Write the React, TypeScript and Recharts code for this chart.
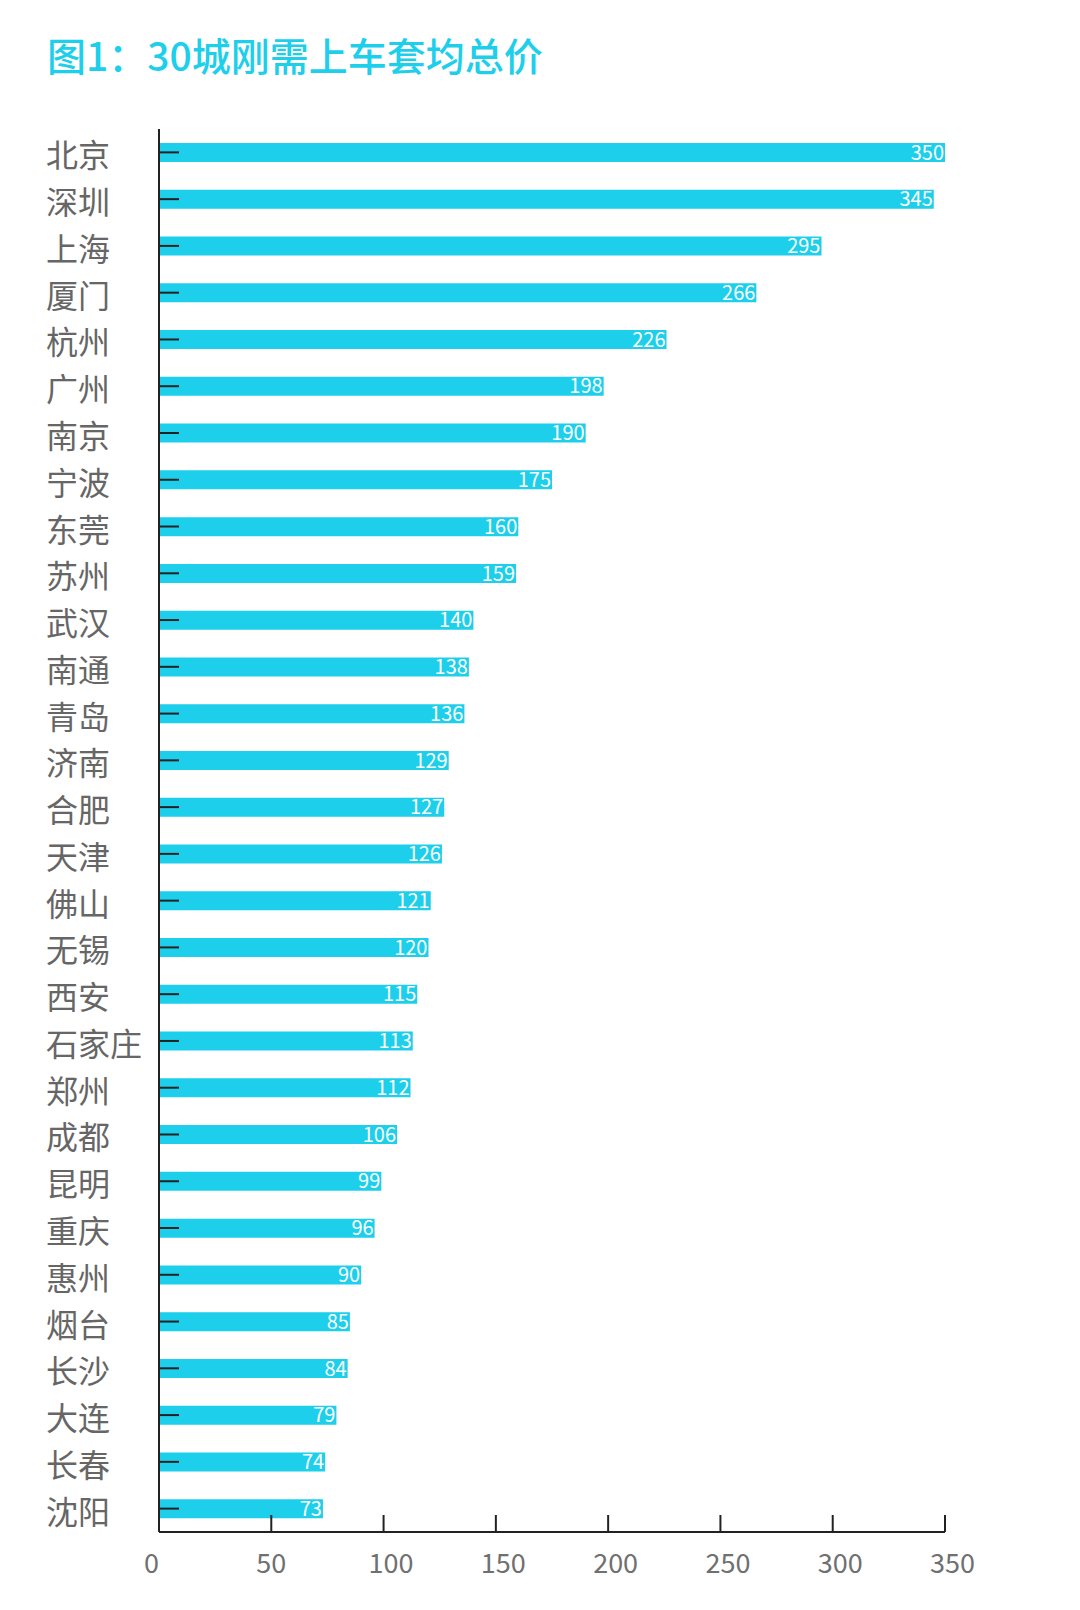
import React from "react";
import { BarChart, Bar, XAxis, YAxis, LabelList } from "recharts";

document.body.style.margin = "0";

const cities = [
  "北京", "深圳", "上海", "厦门", "杭州", "广州", "南京", "宁波", "东莞", "苏州",
  "武汉", "南通", "青岛", "济南", "合肥", "天津", "佛山", "无锡", "西安", "石家庄",
  "郑州", "成都", "昆明", "重庆", "惠州", "烟台", "长沙", "大连", "长春", "沈阳",
];
const prices = [
  350, 345, 295, 266, 226, 198, 190, 175, 160, 159,
  140, 138, 136, 129, 127, 126, 121, 120, 115, 113,
  112, 106, 99, 96, 90, 85, 84, 79, 74, 73,
];
const xTicks = [0, 50, 100, 150, 200, 250, 300, 350];

const data = cities.map((city, i) => ({ city, price: prices[i] }));

const FONT = '"Noto Sans CJK SC", "Noto Sans", sans-serif';
const BAR = "#1dcfea";
const AXIS = "#222";

/* eslint-disable @typescript-eslint/no-explicit-any */
// tick marks sit inside the plot; labels start a little left of the tick
const XTick = ({ x, y, payload }: any) => (
  <g>
    {payload.value !== 0 && (
      <line x1={x} x2={x} y1={y} y2={y - 17} stroke={AXIS} strokeWidth={2} />
    )}
    <text
      x={x - 15}
      y={y + 41}
      textAnchor="start"
      fill="#707070"
      fontSize={27}
      fontFamily={FONT}
    >
      {payload.value}
    </text>
  </g>
);

const YTick = ({ x, y, payload }: any) => (
  <g>
    <line x1={x} x2={x + 20} y1={y} y2={y} stroke={AXIS} strokeWidth={2} />
    <text
      x={x - 113}
      y={y + 15}
      textAnchor="start"
      fill="#666"
      fontSize={32}
      fontFamily={FONT}
    >
      {payload.value}
    </text>
  </g>
);

export default function App() {
  return (
    <div style={{ position: "relative", width: 1080, height: 1610, background: "#fff" }}>
      <div
        style={{
          position: "absolute",
          left: 47,
          top: 26,
          color: BAR,
          fontSize: 39,
          fontWeight: 500,
          fontFamily: FONT,
          lineHeight: "56px",
          whiteSpace: "nowrap",
        }}
      >
        图1：30城刚需上车套均总价
      </div>
      <BarChart
        width={1080}
        height={1610}
        data={data}
        layout="vertical"
        margin={{ top: 129, right: 135, bottom: 0, left: 47 }}
      >
        <Bar dataKey="price" fill={BAR} barSize={19} isAnimationActive={false}>
          <LabelList
            dataKey="price"
            position="insideRight"
            offset={1}
            fill="#fff"
            fontSize={20}
            fontFamily={FONT}
          />
        </Bar>
        <XAxis
          type="number"
          domain={[0, 350]}
          ticks={xTicks}
          height={78}
          tickSize={0}
          tickMargin={0}
          tick={<XTick />}
          axisLine={{ stroke: AXIS, strokeWidth: 2 }}
          tickLine={false}
          interval={0}
        />
        <YAxis
          type="category"
          dataKey="city"
          width={112}
          tickSize={0}
          tickMargin={0}
          tick={<YTick />}
          axisLine={{ stroke: AXIS, strokeWidth: 2 }}
          tickLine={false}
          interval={0}
        />
      </BarChart>
    </div>
  );
}
